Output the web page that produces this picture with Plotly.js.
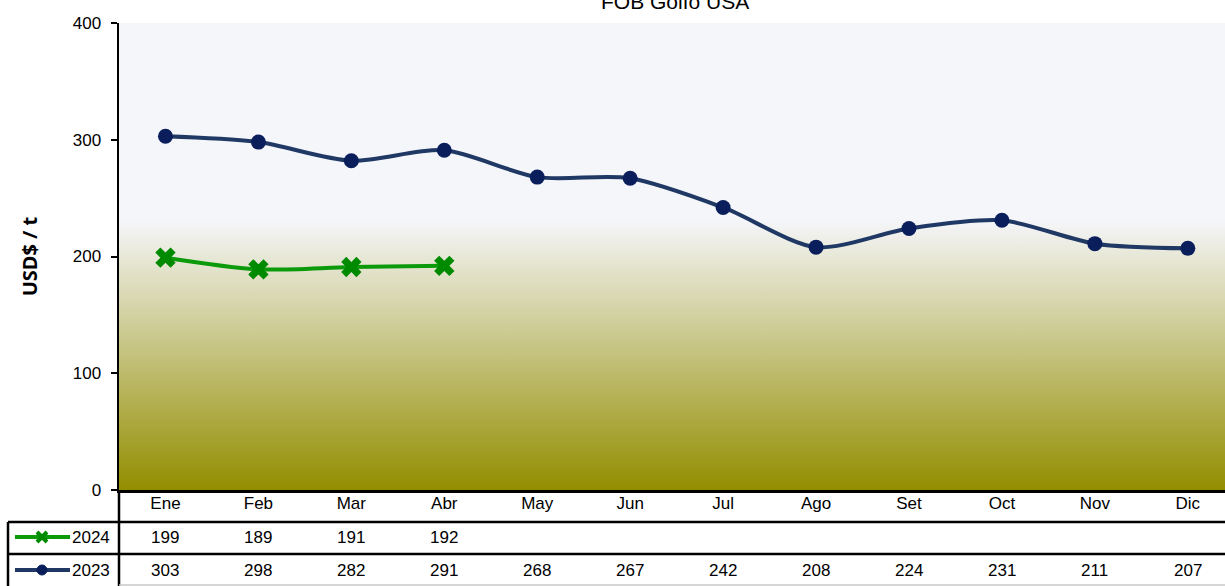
<!DOCTYPE html>
<html>
<head>
<meta charset="utf-8">
<script src="https://cdn.plot.ly/plotly-3.0.1.min.js"></script>
<style>
  body { margin: 0; background: #fff; }
  #chart { width: 1225px; height: 586px; }
</style>
</head>
<body>
<div id="chart"></div>
<script>
// months and yearly prices (USD$/t, FOB Golfo USA)
var months = ["Ene", "Feb", "Mar", "Abr", "May", "Jun", "Jul", "Ago", "Set", "Oct", "Nov", "Dic"];
var y2024 = [199, 189, 191, 192];
var y2023 = [303, 298, 282, 291, 268, 267, 242, 208, 224, 231, 211, 207];
var yTicks = [0, 100, 200, 300, 400];

var W = 1225, H = 586;
var mL = 119, mR = 0, mT = 23, mB = 96;
var plotW = W - mL - mR, plotH = H - mT - mB;
// pixel -> paper helpers for the table / decorations
function px(p) { return (p - mL) / plotW; }
function py(p) { return (H - mB - p) / plotH; }

var narrow = "Liberation Sans Narrow, Arial Narrow, Liberation Sans, Arial, sans-serif";
var navyLine = "#1f3864", navyMark = "#0a1e5c";
var greenLine = "#0a9a0a", greenMark = "#008a00";

var trace2023 = {
  x: months.slice(0, y2023.length),
  y: y2023,
  type: "scatter",
  mode: "lines+markers",
  line: { color: navyLine, width: 4, shape: "spline", smoothing: 0.8 },
  marker: { color: navyMark, size: 15, symbol: "circle" },
  hoverinfo: "skip"
};

var trace2024 = {
  x: months.slice(0, y2024.length),
  y: y2024,
  type: "scatter",
  mode: "lines+markers",
  line: { color: greenLine, width: 4, shape: "spline", smoothing: 0.8 },
  marker: { color: greenMark, size: 18, symbol: "x" },
  hoverinfo: "skip"
};

// background gradient of the plot area
var grad = '<svg xmlns="http://www.w3.org/2000/svg" width="10" height="100" preserveAspectRatio="none">' +
  '<defs><linearGradient id="g" x1="0" y1="0" x2="0" y2="1">' +
  '<stop offset="0" stop-color="#f5f6fa"/>' +
  '<stop offset="0.42" stop-color="#f5f6fa"/>' +
  '<stop offset="1" stop-color="#938e00"/>' +
  '</linearGradient></defs><rect width="10" height="100" fill="url(#g)"/></svg>';
var gradSrc = "data:image/svg+xml;base64," + btoa(grad);

var annotations = [
  {
    text: "FOB Golfo USA", xref: "paper", yref: "paper",
    x: px(675), y: py(1), xanchor: "center", yanchor: "middle",
    showarrow: false, font: { family: narrow, size: 21, color: "#000" }
  },
  {
    text: "2024", xref: "paper", yref: "paper", x: px(112), y: py(537),
    xanchor: "right", yanchor: "middle", showarrow: false,
    font: { family: narrow, size: 17, color: "#000" }
  },
  {
    text: "2023", xref: "paper", yref: "paper", x: px(112), y: py(570),
    xanchor: "right", yanchor: "middle", showarrow: false,
    font: { family: narrow, size: 17, color: "#000" }
  }
];

// table values
y2024.forEach(function (v, i) {
  annotations.push({
    text: String(v), x: months[i], xref: "x", yref: "paper", y: py(537),
    yanchor: "middle", showarrow: false, font: { family: narrow, size: 17, color: "#000" }
  });
});
y2023.forEach(function (v, i) {
  annotations.push({
    text: String(v), x: months[i], xref: "x", yref: "paper", y: py(570),
    yanchor: "middle", showarrow: false, font: { family: narrow, size: 17, color: "#000" }
  });
});

var tableLine = { color: "#000", width: 2.5 };
var shapes = [
  // table grid
  { type: "line", xref: "paper", yref: "paper", x0: px(8), x1: 1, y0: py(522), y1: py(522), line: tableLine },
  { type: "line", xref: "paper", yref: "paper", x0: px(8), x1: 1, y0: py(554), y1: py(554), line: tableLine },
  { type: "line", xref: "paper", yref: "paper", x0: px(8), x1: px(8), y0: py(522), y1: py(586), line: tableLine },
  { type: "line", xref: "paper", yref: "paper", x0: 0, x1: 0, y0: 0, y1: py(586), line: tableLine },
  { type: "line", xref: "paper", yref: "paper", x0: 0, x1: 1, y0: py(585), y1: py(585), line: { color: "#c8c8c8", width: 1.5 } },
  // legend keys
  { type: "line", xref: "paper", yref: "paper", x0: px(15), x1: px(70), y0: py(537), y1: py(537), line: { color: greenLine, width: 4 } },
  { type: "path", xref: "paper", yref: "paper",
    path: "M " + px(37) + "," + py(532) + " L " + px(47) + "," + py(542) +
          " M " + px(37) + "," + py(542) + " L " + px(47) + "," + py(532),
    line: { color: greenMark, width: 4 } },
  { type: "line", xref: "paper", yref: "paper", x0: px(15), x1: px(70), y0: py(570), y1: py(570), line: { color: navyLine, width: 4 } },
  { type: "circle", xref: "paper", yref: "paper", x0: px(37), x1: px(47), y0: py(565), y1: py(575),
    fillcolor: navyMark, line: { color: navyMark, width: 1 } }
];

var layout = {
  width: W, height: H,
  margin: { l: mL, r: mR, t: mT, b: mB, pad: 0 },
  paper_bgcolor: "#ffffff",
  plot_bgcolor: "rgba(0,0,0,0)",
  showlegend: false,
  font: { family: narrow, size: 17, color: "#000" },
  images: [{
    source: gradSrc, xref: "paper", yref: "paper", x: 0, y: 1,
    sizex: 1, sizey: 1, sizing: "stretch", xanchor: "left", yanchor: "top", layer: "below"
  }],
  xaxis: {
    type: "category",
    categoryorder: "array", categoryarray: months,
    range: [-0.5, 11.4],
    showgrid: false, zeroline: false,
    showline: true, linecolor: "#000", linewidth: 2.5,
    ticks: "", ticklabelstandoff: -4,
    tickfont: { family: narrow, size: 17, color: "#000" },
    fixedrange: true
  },
  yaxis: {
    range: [0, 400],
    tickvals: yTicks,
    showgrid: false, zeroline: false,
    showline: true, linecolor: "#000", linewidth: 2.5,
    ticks: "outside", ticklen: 6, tickwidth: 2, tickcolor: "#000",
    ticklabelstandoff: 6,
    tickfont: { family: narrow, size: 17, color: "#000" },
    title: { text: "USD$ / t", font: { family: "Noto Sans, DejaVu Sans, sans-serif", size: 20, color: "#000", weight: "bold" }, standoff: 30 },
    fixedrange: true
  },
  annotations: annotations,
  shapes: shapes
};

Plotly.newPlot("chart", [trace2023, trace2024], layout, { staticPlot: true });
</script>
</body>
</html>
